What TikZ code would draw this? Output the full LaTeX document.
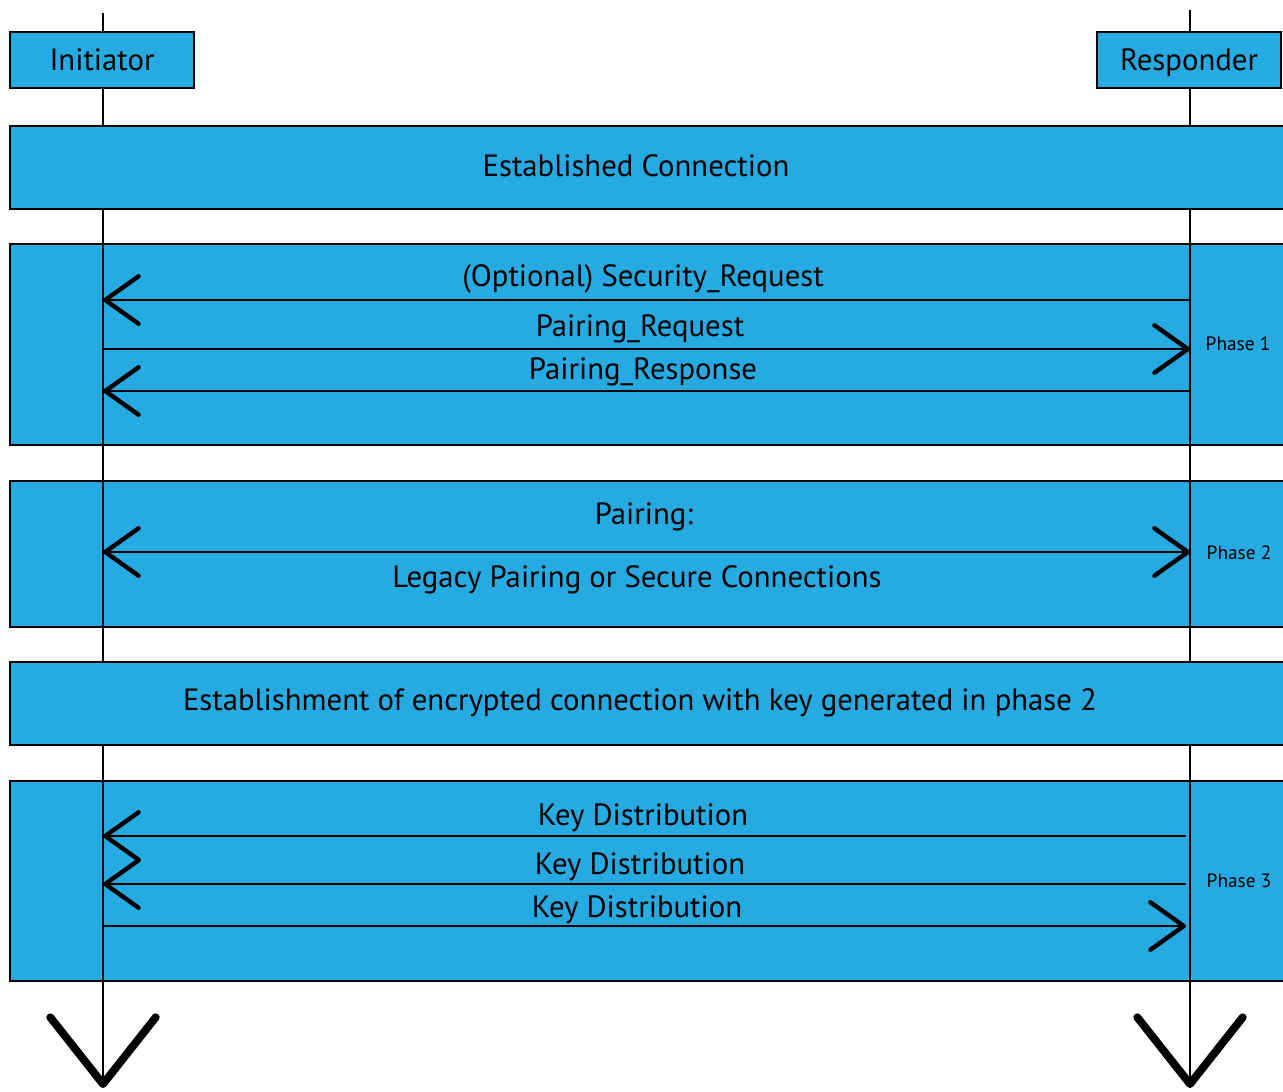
\documentclass[tikz,border=0pt]{standalone}
\usepackage{fontspec}
\setmainfont{PT Sans}
\usetikzlibrary{arrows.meta}
\definecolor{smpblue}{RGB}{38,170,226}

\tikzset{
  >={Straight Barb[length=19pt,width=27pt,line width=2.5pt,round]},
  box/.style={draw,fill=smpblue,line width=1.4pt,inner sep=0pt},
  wide/.style={box,minimum width=25.6cm},
  life/.style={line width=1.4pt,-{Straight Barb[length=38pt,width=60pt,line width=4.5pt,round]}},
  msg/.style={line width=1.4pt},
  txt/.style={font=\fontsize{17.5}{21}\selectfont,inner sep=0pt,text height=12.3pt,text depth=0pt},
  phase/.style={font=\fontsize{11}{13}\selectfont,inner sep=0pt,text height=7.7pt,text depth=0pt}
}

\begin{document}
\begin{tikzpicture}[x=0.02cm,y=-0.02cm]
  \useasboundingbox (0,0) rectangle (1283,1091);

  % phase blocks (lifelines run over them)
  \node[wide,minimum height=4.02cm] (ph1) at (650,344.5) {};
  \node[wide,minimum height=2.92cm] (ph2) at (650,554) {};
  \node[wide,minimum height=4cm] (ph3) at (650,881) {};

  % lifelines
  \coordinate (iTop) at (103,13);
  \coordinate (iEnd) at (103,1088);
  \coordinate (rTop) at (1190,10);
  \coordinate (rEnd) at (1190,1088);
  \draw[life] (iTop) -- (iEnd);
  \draw[life] (rTop) -- (rEnd);

  % blocks that hide the lifelines
  \node[wide,minimum height=1.66cm] (est) at (650,167.5) {};
  \node[wide,minimum height=1.66cm] (enc) at (650,703.5) {};
  \node[txt] (estlbl) at (636,166) {Established Connection};
  \node[txt] (enclbl) at (640,700) {Establishment of encrypted connection with key generated in phase 2};

  % participants
  \node[box,txt,minimum width=3.68cm,minimum height=1.12cm] (init) at (102,60) {Initiator};
  \node[box,txt,minimum width=3.68cm,minimum height=1.12cm] (resp) at (1189,60) {Responder};

  % message end points
  \foreach \y/\n in {300/a,349/b,391/c,552/d,836/e,884/f,926/g} {
    \coordinate (i\n) at (103,\y);
    \coordinate (r\n) at (1190,\y);
  }

  % phase 1
  \draw[msg,->] (ra) -- (ia);
  \draw[msg,->] (ib) -- (rb);
  \draw[msg,->] (rc) -- (ic);
  \node[txt] (secreq) at (643,276) {(Optional) Security\_Request};
  \node[txt] (pairreq) at (640,326) {Pairing\_Request};
  \node[txt] (pairrsp) at (643,369) {Pairing\_Response};
  \node[phase] (p1) at (1238,344) {Phase 1};

  % phase 2
  \draw[msg,<->] (id) -- (rd);
  \node[txt] (pairing) at (644,514) {Pairing:};
  \node[txt] (legacy) at (637,577) {Legacy Pairing or Secure Connections};
  \node[phase] (p2) at (1239,553) {Phase 2};

  % phase 3
  \draw[msg,->,shorten <=0.08cm] (re) -- (ie);
  \draw[msg,->,shorten <=0.08cm] (rf) -- (if);
  \draw[msg,->,shorten >=0.08cm] (ig) -- (rg);
  \node[txt] (key1) at (643,815) {Key Distribution};
  \node[txt] (key2) at (640,864) {Key Distribution};
  \node[txt] (key3) at (637,907) {Key Distribution};
  \node[phase] (p3) at (1239,881) {Phase 3};
\end{tikzpicture}
\end{document}
